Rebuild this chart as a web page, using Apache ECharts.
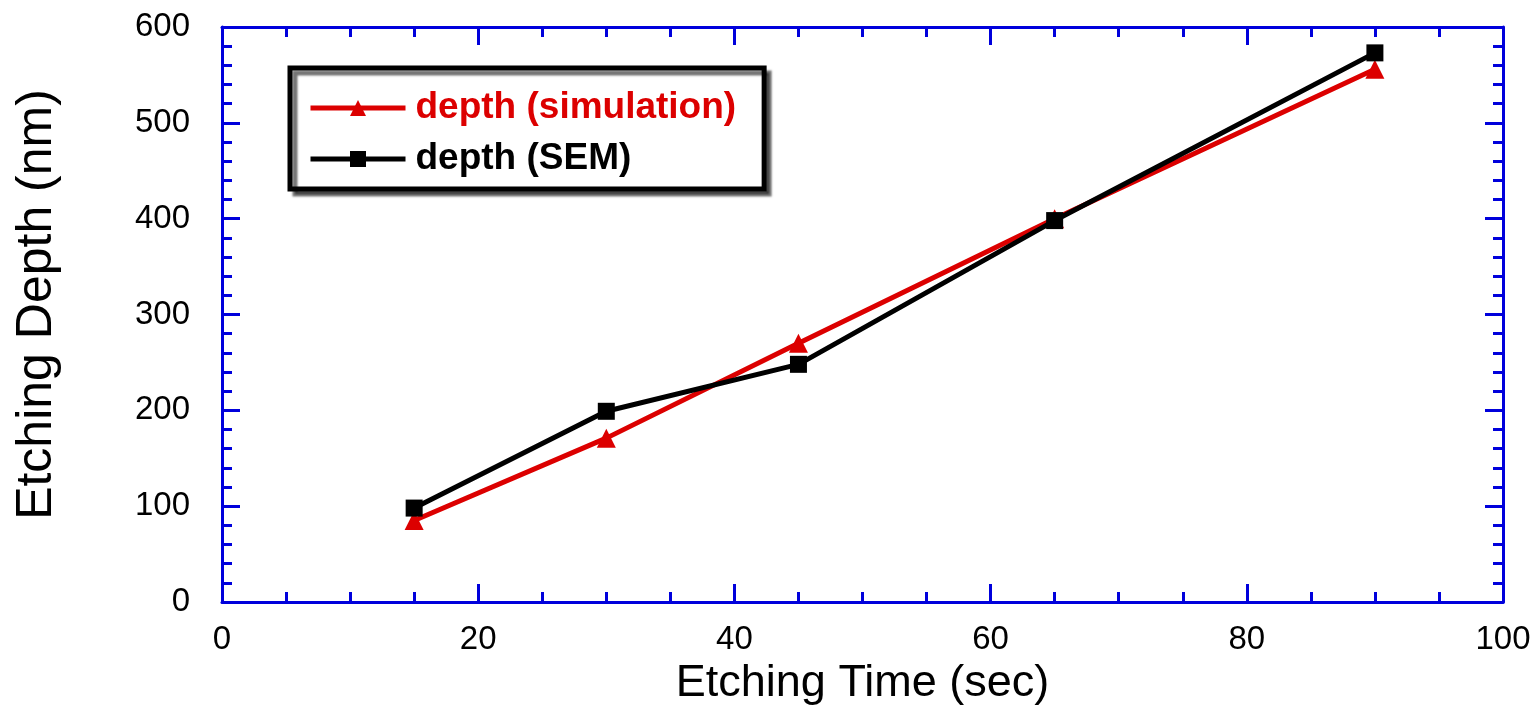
<!DOCTYPE html>
<html>
<head>
<meta charset="utf-8">
<title>Etching Depth vs Etching Time</title>
<script src="https://cdn.jsdelivr.net/npm/echarts@6/dist/echarts.min.js"></script>
<style>
  html, body { margin: 0; padding: 0; background: #ffffff; }
  #chart { width: 1539px; height: 705px; }
</style>
</head>
<body>
<div id="chart"></div>
<script>
// Etching time in seconds
const etchTime = [15, 30, 45, 65, 90];
// Depth from the simulation (nm)
const depthSimulation = [85, 171, 270, 400, 556];
// Depth measured by SEM (nm)
const depthSEM = [98, 199, 248, 398, 573];

const seriesNames = ['depth (simulation)', 'depth (SEM)'];
const xTitle = 'Etching Time (sec)';
const yTitle = 'Etching Depth (nm)';

const AXIS_BLUE = '#0000DC';
const RED = '#DC0000';
const FONT = '"Liberation Sans", Arial, sans-serif';

const pairs = (xs, ys) => xs.map((x, i) => [x, ys[i]]);

// Shared look for the boxed frame: blue lines with inward major and minor ticks
function frameAxis(extra) {
  return Object.assign({
    axisLine: { show: true, onZero: false, lineStyle: { color: AXIS_BLUE, width: 3 } },
    axisTick: { show: true, inside: true, length: 18, lineStyle: { color: AXIS_BLUE, width: 3 } },
    splitLine: { show: false },
    minorSplitLine: { show: false }
  }, extra);
}

const minor = (n) => ({ show: true, splitNumber: n, length: 10, lineStyle: { color: AXIS_BLUE, width: 3 } });

const chart = echarts.init(document.getElementById('chart'), null, { renderer: 'canvas' });

chart.setOption({
  backgroundColor: '#ffffff',
  animation: false,
  textStyle: { fontFamily: FONT },
  grid: { left: 222, right: 36, top: 27, bottom: 103, containLabel: false, outerBoundsMode: 'none' },
  legend: {
    orient: 'vertical',
    left: 290,
    top: 68,
    padding: [20, 28, 10, 18],
    itemGap: 11,
    itemWidth: 95,
    itemHeight: 20,
    backgroundColor: '#ffffff',
    borderColor: '#000000',
    borderWidth: 5,
    borderRadius: 0,
    shadowColor: 'rgba(0,0,0,0.55)',
    shadowBlur: 2,
    shadowOffsetX: 5,
    shadowOffsetY: 5,
    lineStyle: { width: 5 },
    textStyle: { fontFamily: FONT, fontSize: 37, fontWeight: 'bold', lineHeight: 40, padding: [0, 0, 0, 5] },
    data: [
      { name: seriesNames[0], textStyle: { color: RED } },
      { name: seriesNames[1], textStyle: { color: '#000000' } }
    ]
  },
  xAxis: [
    frameAxis({
      type: 'value', position: 'bottom', min: 0, max: 100, interval: 20,
      minorTick: minor(4),
      axisLabel: { show: true, color: '#000', fontSize: 33, margin: 21, fontFamily: FONT },
      name: xTitle, nameLocation: 'middle', nameGap: 56,
      nameTextStyle: { color: '#000', fontSize: 45, fontFamily: FONT }
    }),
    frameAxis({
      type: 'value', position: 'top', min: 0, max: 100, interval: 20,
      minorTick: minor(4),
      axisLabel: { show: false }
    })
  ],
  yAxis: [
    frameAxis({
      type: 'value', position: 'left', min: 0, max: 600, interval: 100,
      minorTick: minor(5),
      axisLabel: { show: true, color: '#000', fontSize: 33, margin: 32, fontFamily: FONT },
      name: yTitle, nameLocation: 'middle', nameGap: 160, nameRotate: 90,
      nameTextStyle: { color: '#000', fontSize: 50, fontFamily: FONT, padding: [0, 0, 0, 20] }
    }),
    frameAxis({
      type: 'value', position: 'right', min: 0, max: 600, interval: 100,
      minorTick: minor(5),
      axisLabel: { show: false }
    })
  ],
  series: [
    {
      name: seriesNames[0],
      type: 'line',
      xAxisIndex: 0, yAxisIndex: 0,
      data: pairs(etchTime, depthSimulation),
      symbol: 'triangle',
      symbolSize: 19,
      lineStyle: { color: RED, width: 5 },
      itemStyle: { color: RED },
      z: 2
    },
    {
      name: seriesNames[1],
      type: 'line',
      xAxisIndex: 0, yAxisIndex: 0,
      data: pairs(etchTime, depthSEM),
      symbol: 'rect',
      symbolSize: 17,
      lineStyle: { color: '#000000', width: 5 },
      itemStyle: { color: '#000000' },
      z: 3
    }
  ]
});
</script>
</body>
</html>
